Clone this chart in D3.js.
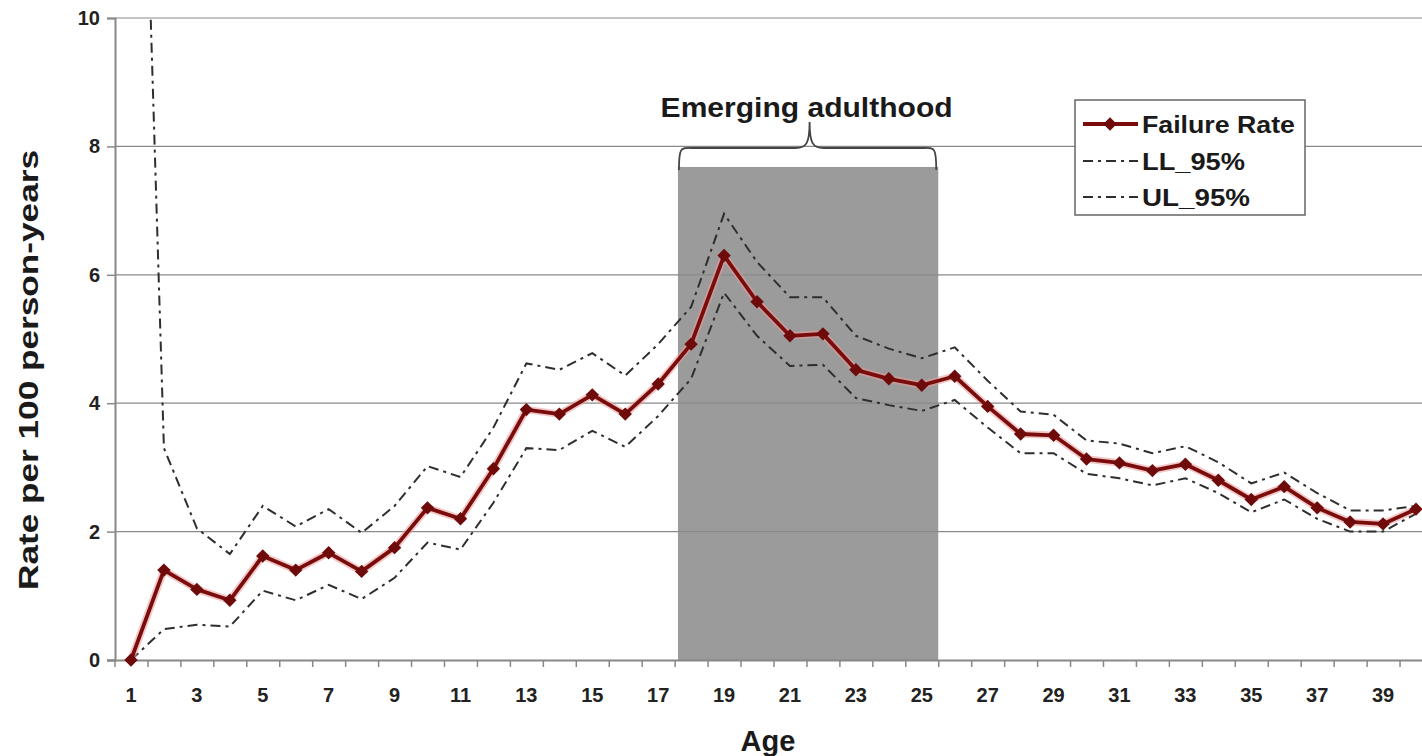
<!DOCTYPE html>
<html>
<head>
<meta charset="utf-8">
<script src="https://cdn.jsdelivr.net/npm/d3@7"></script>
<style>
  html, body { margin: 0; padding: 0; background: #fff; }
  svg { display: block; font-family: "Liberation Sans", Arial, sans-serif; }
</style>
</head>
<body>
<svg id="chart" width="1422" height="756"></svg>
<script>
// ---- data ----
const ages = [1,2,3,4,5,6,7,8,9,10,11,12,13,14,15,16,17,18,19,20,21,22,23,24,25,26,27,28,29,30,31,32,33,34,35,36,37,38,39,40];
const failureRate = [0,1.40,1.10,0.93,1.62,1.40,1.67,1.38,1.75,2.37,2.20,2.98,3.90,3.83,4.13,3.83,4.30,4.92,6.30,5.58,5.05,5.08,4.52,4.38,4.28,4.42,3.95,3.52,3.50,3.13,3.07,2.95,3.05,2.80,2.50,2.70,2.37,2.15,2.12,2.35];
const ll95 = [0,0.48,0.55,0.52,1.08,0.93,1.17,0.95,1.28,1.83,1.72,2.45,3.30,3.27,3.57,3.32,3.80,4.38,5.72,5.05,4.58,4.60,4.08,3.97,3.88,4.05,3.62,3.22,3.22,2.90,2.83,2.72,2.83,2.60,2.30,2.50,2.20,2.00,2.00,2.28];
const ul95 = [20,3.30,2.05,1.65,2.40,2.08,2.35,1.98,2.40,3.02,2.85,3.62,4.62,4.52,4.78,4.43,4.92,5.50,6.95,6.20,5.65,5.65,5.05,4.85,4.70,4.87,4.35,3.87,3.82,3.42,3.37,3.22,3.33,3.08,2.75,2.92,2.60,2.33,2.33,2.40];
const xTickLabels = [1,3,5,7,9,11,13,15,17,19,21,23,25,27,29,31,33,35,37,39];
const yTicks = [0,2,4,6,8,10];
const seriesNames = ["Failure Rate","LL_95%","UL_95%"];
const bandLabel = "Emerging adulthood";
const bandStartAge = 17.6, bandEndAge = 25.5, bandTopValue = 7.68;

// ---- layout ----
const svg = d3.select("#chart");
const pLeft = 115, pRight = 1422, pTop = 18, pBottom = 660;
const step = 32.95;
const x = d3.scaleLinear().domain([0.5, 40.5]).range([pLeft - 0.5, pLeft - 0.5 + 40 * step]);
const y = d3.scaleLinear().domain([0, 10]).range([pBottom, pTop]);

const defs = svg.append("defs");
defs.append("clipPath").attr("id", "plotclip")
  .append("rect").attr("x", pLeft).attr("y", pTop).attr("width", pRight - pLeft).attr("height", pBottom - pTop);

// shaded band
svg.append("rect")
  .attr("x", x(bandStartAge)).attr("y", y(bandTopValue))
  .attr("width", x(bandEndAge) - x(bandStartAge))
  .attr("height", y(0) - y(bandTopValue))
  .attr("fill", "#9b9b9b");

// gridlines
svg.append("g").selectAll("line").data(yTicks.filter(d => d > 0)).join("line")
  .attr("x1", pLeft).attr("x2", pRight)
  .attr("y1", d => y(d)).attr("y2", d => y(d))
  .attr("stroke", "#8a8a8a").attr("stroke-width", 1.2);

// brace
const bx0 = x(bandStartAge) + 1, bx1 = x(bandEndAge) - 2, bmid = (bx0 + bx1) / 2 + 2;
const byEnd = y(bandTopValue) + 3, byLine = 148, byTip = 122;
const rr = 14;
const bracePath = `M${bx0},${byEnd} C${bx0},${byLine - 2} ${bx0 + 2},${byLine} ${bx0 + rr},${byLine}
  L${bmid - rr},${byLine} C${bmid - 3},${byLine} ${bmid},${byLine - 5} ${bmid},${byTip}
  C${bmid},${byLine - 5} ${bmid + 3},${byLine} ${bmid + rr},${byLine}
  L${bx1 - rr},${byLine} C${bx1 - 2},${byLine} ${bx1},${byLine - 2} ${bx1},${byEnd}`;
svg.append("path").attr("d", bracePath).attr("fill", "none").attr("stroke", "#444").attr("stroke-width", 1.8);

svg.append("text").attr("x", bmid - 3).attr("y", 117).attr("text-anchor", "middle")
  .attr("font-size", 27).attr("font-weight", "bold").attr("fill", "#1a1a1a")
  .attr("textLength", 292).attr("lengthAdjust", "spacingAndGlyphs")
  .text(bandLabel);

// axes
const yAxis = d3.axisLeft(y).tickValues(yTicks).tickSize(8).tickFormat(d3.format("d"));
const gy = svg.append("g").attr("transform", `translate(${pLeft},0)`).call(yAxis);
gy.select(".domain").attr("stroke", "#888").attr("stroke-width", 2);
gy.selectAll(".tick line").attr("stroke", "#888").attr("stroke-width", 1.5);
gy.selectAll(".tick text").attr("x", -15).attr("font-size", 20).attr("font-weight", "bold")
  .attr("fill", "#222").attr("font-family", "Liberation Sans, Arial, sans-serif");

const boundaries = ages.map(a => a - 0.5).concat([40.5]);
const xAxis = d3.axisBottom(x).tickValues(boundaries).tickSize(7).tickFormat("");
const gx = svg.append("g").attr("transform", `translate(0,${pBottom})`).call(xAxis);
gx.select(".domain").attr("stroke", "#888").attr("stroke-width", 2).attr("d", `M${pLeft - 8},0.5H${pRight + 20}`);
gx.selectAll(".tick line").attr("stroke", "#888").attr("stroke-width", 1.5);

svg.append("g").selectAll("text").data(xTickLabels).join("text")
  .attr("x", d => x(d)).attr("y", 702).attr("text-anchor", "middle")
  .attr("font-size", 20).attr("font-weight", "bold").attr("fill", "#222")
  .text(d => d);

// axis titles
svg.append("text").attr("transform", "translate(38,370) rotate(-90)").attr("text-anchor", "middle")
  .attr("font-size", 28).attr("font-weight", "bold").attr("fill", "#1a1a1a")
  .attr("textLength", 440).attr("lengthAdjust", "spacingAndGlyphs")
  .text("Rate per 100 person-years");
svg.append("text").attr("x", 768).attr("y", 751).attr("text-anchor", "middle")
  .attr("font-size", 29).attr("font-weight", "bold").attr("fill", "#1a1a1a")
  .text("Age");

// series
const plot = svg.append("g").attr("clip-path", "url(#plotclip)");
const line = d3.line().x((d, i) => x(ages[i])).y(d => y(d));
const dashStyle = "10,5,3,5";
[ll95, ul95].forEach(s => {
  plot.append("path").datum(s).attr("d", line).attr("fill", "none")
    .attr("stroke", "#2e2e2e").attr("stroke-width", 2).attr("stroke-dasharray", dashStyle);
});
plot.append("path").datum(failureRate).attr("d", line).attr("fill", "none")
  .attr("stroke", "#e79a9a").attr("stroke-width", 7.5).attr("stroke-opacity", 0.55).attr("stroke-linejoin", "round");
plot.append("path").datum(failureRate).attr("d", line).attr("fill", "none")
  .attr("stroke", "#7a0c0c").attr("stroke-width", 3.8).attr("stroke-linejoin", "round");

const diamond = d3.symbol(d3.symbolSquare, 90);
svg.append("g").selectAll("path").data(failureRate).join("path")
  .attr("d", diamond)
  .attr("transform", (d, i) => `translate(${x(ages[i])},${y(d)}) rotate(45)`)
  .attr("fill", "#6e0a0a");

// legend
const lg = svg.append("g");
lg.append("rect").attr("x", 1075).attr("y", 100).attr("width", 230).attr("height", 115)
  .attr("fill", "#fff").attr("stroke", "#666").attr("stroke-width", 1.5);
const legY = [124, 161, 197];
const legLen = [153, 103, 108];
seriesNames.forEach((name, i) => {
  const ly = legY[i];
  if (i === 0) {
    lg.append("line").attr("x1", 1083).attr("x2", 1138).attr("y1", ly).attr("y2", ly)
      .attr("stroke", "#7a0c0c").attr("stroke-width", 3.8);
    lg.append("path").attr("d", diamond).attr("transform", `translate(1110,${ly}) rotate(45)`).attr("fill", "#6e0a0a");
  } else {
    lg.append("line").attr("x1", 1083).attr("x2", 1138).attr("y1", ly).attr("y2", ly)
      .attr("stroke", "#2e2e2e").attr("stroke-width", 2).attr("stroke-dasharray", dashStyle);
  }
  lg.append("text").attr("x", 1142).attr("y", ly + 9).attr("font-size", 24).attr("font-weight", "bold")
    .attr("fill", "#1a1a1a").attr("textLength", legLen[i]).attr("lengthAdjust", "spacingAndGlyphs").text(name);
});
</script>
</body>
</html>
